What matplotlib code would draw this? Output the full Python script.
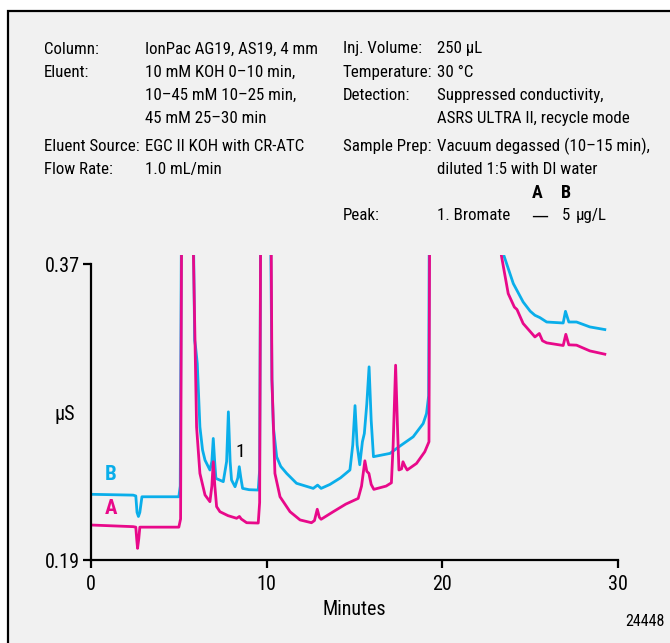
import matplotlib
matplotlib.use("Agg")
import matplotlib.pyplot as plt
from matplotlib.patches import Rectangle

plt.rcParams['font.family'] = ['Roboto Condensed', 'Liberation Sans', 'DejaVu Sans']

# Trace B (blue), 5 ug/L bromate spike; values above 0.376 are off scale
time_b = [0, 2.4, 2.55, 2.62, 2.7, 2.78, 2.9, 5.0, 5.08, 5.15,
          5.82, 5.9, 5.95, 6.05, 6.2, 6.35, 6.49, 6.77, 6.88, 6.96, 7.04, 7.11,
          7.53, 7.72, 7.82, 7.92, 8.0, 8.2, 8.36, 8.44, 8.53, 8.63, 9.0, 9.52,
          9.6, 9.66,
          10.22, 10.3, 10.38, 10.57, 10.8, 11.14, 11.7, 12.65, 12.9, 13.1, 13.6,
          14.2, 14.74, 14.9, 15.03, 15.15, 15.3, 15.45, 15.56, 15.7, 15.83,
          15.95, 16.08, 17.02, 17.59, 18.34, 18.91, 19.1, 19.22, 19.26,
          23.45, 23.5, 24.04, 24.6, 25.0, 25.27, 25.55, 25.94, 26.88, 27.01,
          27.2, 27.64, 28.4, 29.25]
val_b = [0.230, 0.2295, 0.2290, 0.2190, 0.2165, 0.2190, 0.2285, 0.2285, 0.235, 0.40,
         0.40, 0.3238, 0.320, 0.3096, 0.271, 0.257, 0.2508, 0.2448, 0.250, 0.264, 0.250, 0.2397,
         0.2377, 0.250, 0.2802, 0.250, 0.2387, 0.2346, 0.240, 0.2468, 0.240, 0.2336, 0.2328, 0.2326,
         0.245, 0.40,
         0.40, 0.30, 0.271, 0.2528, 0.2470, 0.2427, 0.2367, 0.2336, 0.2356, 0.2336, 0.2360,
         0.2400, 0.2448, 0.260, 0.2840, 0.260, 0.2480, 0.262, 0.267, 0.285, 0.3076,
         0.275, 0.2529, 0.2549, 0.2594, 0.2650, 0.2731, 0.2792, 0.290, 0.40,
         0.40, 0.3755, 0.3583, 0.3471, 0.3415, 0.3390, 0.3376, 0.3349, 0.3343, 0.3414,
         0.3349, 0.3349, 0.3319, 0.3303]

# Trace A (magenta), unspiked sample
time_a = [0, 2.4, 2.55, 2.6, 2.65, 2.72, 2.78, 5.0, 5.1, 5.16,
          5.79, 5.92, 6.01, 6.2, 6.49, 6.77, 6.88, 6.96, 7.05, 7.15, 7.34, 7.8,
          8.29, 8.45, 8.55, 8.86, 9.52, 9.6, 9.66,
          10.25, 10.3, 10.47, 10.76, 11.33, 11.9, 12.55, 12.72, 12.88, 13.0, 13.1,
          13.79, 14.5, 15.21, 15.4, 15.59, 15.7, 15.82, 15.95, 16.1, 16.8, 17.1,
          17.2, 17.34, 17.45, 17.53, 17.68, 17.76, 17.88, 18.0, 18.53, 19.0,
          19.24, 19.28,
          23.3, 23.36, 23.75, 24.1, 24.25, 24.6, 25.27, 25.52, 25.7, 25.94,
          26.88, 27.03, 27.2, 27.64, 28.4, 29.25]
val_a = [0.2113, 0.2103, 0.2100, 0.2030, 0.1971, 0.2030, 0.2100, 0.2100, 0.215, 0.40,
         0.40, 0.3238, 0.271, 0.2427, 0.2296, 0.2255, 0.235, 0.2498, 0.235, 0.2225, 0.2194, 0.2170,
         0.2154, 0.2165, 0.2150, 0.2127, 0.2125, 0.225, 0.40,
         0.40, 0.30, 0.2427, 0.2285, 0.2194, 0.2144, 0.2127, 0.2140, 0.2209, 0.216, 0.2148,
         0.2194, 0.2240, 0.2275, 0.235, 0.2504, 0.244, 0.2427, 0.236, 0.2330, 0.2350, 0.2370,
         0.26, 0.3086, 0.27, 0.2448, 0.2455, 0.2498, 0.2470, 0.2448, 0.2488, 0.2559,
         0.2620, 0.40,
         0.40, 0.3755, 0.3522, 0.3440, 0.3425, 0.3340, 0.3258, 0.3279, 0.3235, 0.3222,
         0.3206, 0.3274, 0.3210, 0.3208, 0.3173, 0.3153]

x_ticks = [0, 10, 20, 30]
y_ticks = [0.19, 0.37]

conditions_left = [
    ("Column:", ["IonPac AG19, AS19, 4 mm"]),
    ("Eluent:", ["10 mM KOH 0\u201310 min,", "10\u201345 mM 10\u201325 min,", "45 mM 25\u201330 min"]),
    ("Eluent Source:", ["EGC II KOH with CR-ATC"]),
    ("Flow Rate:", ["1.0 mL/min"]),
]
conditions_right = [
    ("Inj. Volume:", ["250 \u00b5L"]),
    ("Temperature:", ["30 \u00b0C"]),
    ("Detection:", ["Suppressed conductivity,", "ASRS ULTRA II, recycle mode"]),
    ("Sample Prep:", ["Vacuum degassed (10\u201315 min),", "diluted 1:5 with DI water"]),
]

BLUE = "#0aaeea"
PINK = "#e8098a"
BG = "#f1f1f1"

W, H = 670, 643
fig = plt.figure(figsize=(W / 100, H / 100), dpi=100)
fig.patch.set_facecolor("white")
fig.patches.append(Rectangle((8 / W, -0.05), 1.1, 1 - 10.5 / H + 0.05, transform=fig.transFigure,
                             facecolor=BG, edgecolor="black", linewidth=1.6, zorder=-10))


def fx(px):
    return px / W


def fy(py):
    return 1 - py / H


fs = 12.2
row_h = 23.2


def put_block(items, x_lab, x_val, y0):
    y = y0
    for lab, vals in items:
        fig.text(fx(x_lab), fy(y), lab, fontsize=fs, va="center", ha="left")
        for v in vals:
            fig.text(fx(x_val), fy(y), v, fontsize=fs, va="center", ha="left")
            y += row_h
        if lab == "Eluent:" or lab == "Detection:":
            y += 4.5
    return y


put_block(conditions_left, 44, 145, 49)
put_block(conditions_right, 343, 437, 49)
fig.text(fx(537), fy(193), "A", fontsize=13, va="center", ha="center", fontweight="bold")
fig.text(fx(566), fy(193), "B", fontsize=13, va="center", ha="center", fontweight="bold")
fig.text(fx(343), fy(216), "Peak:", fontsize=fs, va="center")
fig.text(fx(437), fy(216), "1. Bromate", fontsize=fs, va="center")
fig.text(fx(540), fy(216), "\u2014", fontsize=fs, va="center", ha="center", family="DejaVu Sans")
fig.text(fx(566), fy(216), "5", fontsize=fs, va="center", ha="center")
fig.text(fx(576), fy(216), "\u00b5g/L", fontsize=fs, va="center")

ax_l, ax_r = 91, 618
ax_top, ax_bot = 254.5, 560
ax = fig.add_axes([fx(ax_l), fy(ax_bot), (ax_r - ax_l) / W, (ax_bot - ax_top) / H])
ax.set_facecolor("none")
ax.plot(time_b, val_b, color=BLUE, lw=2.0, solid_joinstyle="round")
ax.plot(time_a, val_a, color=PINK, lw=2.0, solid_joinstyle="round")
ax.set_xlim(0, 30)
ax.set_ylim(0.19, 0.376)
ax.spines["top"].set_visible(False)
ax.spines["right"].set_visible(False)
ax.spines["left"].set_bounds(0.19, 0.37)
for s in ("left", "bottom"):
    ax.spines[s].set_linewidth(1.6)
ax.set_xticks(x_ticks)
ax.set_yticks(y_ticks)
ax.set_yticklabels(["0.19", "0.37"])
ax.tick_params(axis="both", length=6, width=1.6, labelsize=14.5, pad=2)
ax.tick_params(axis="x", pad=5)
ax.set_xlabel("Minutes", fontsize=14.5, labelpad=4)

ax.text(8.5, 0.2557, "1", fontsize=14, ha="center", va="center")
fig.text(fx(111), fy(475), "B", color=BLUE, fontsize=15, fontweight="bold", ha="center", va="center")
fig.text(fx(111), fy(509), "A", color=PINK, fontsize=15, fontweight="bold", ha="center", va="center")
fig.text(fx(65), fy(415), "\u00b5S", fontsize=14.5, ha="center", va="center")
fig.text(fx(645), fy(622), "24448", fontsize=11.5, ha="center", va="center")

fig.savefig("out.png", dpi=100, facecolor=fig.get_facecolor())
